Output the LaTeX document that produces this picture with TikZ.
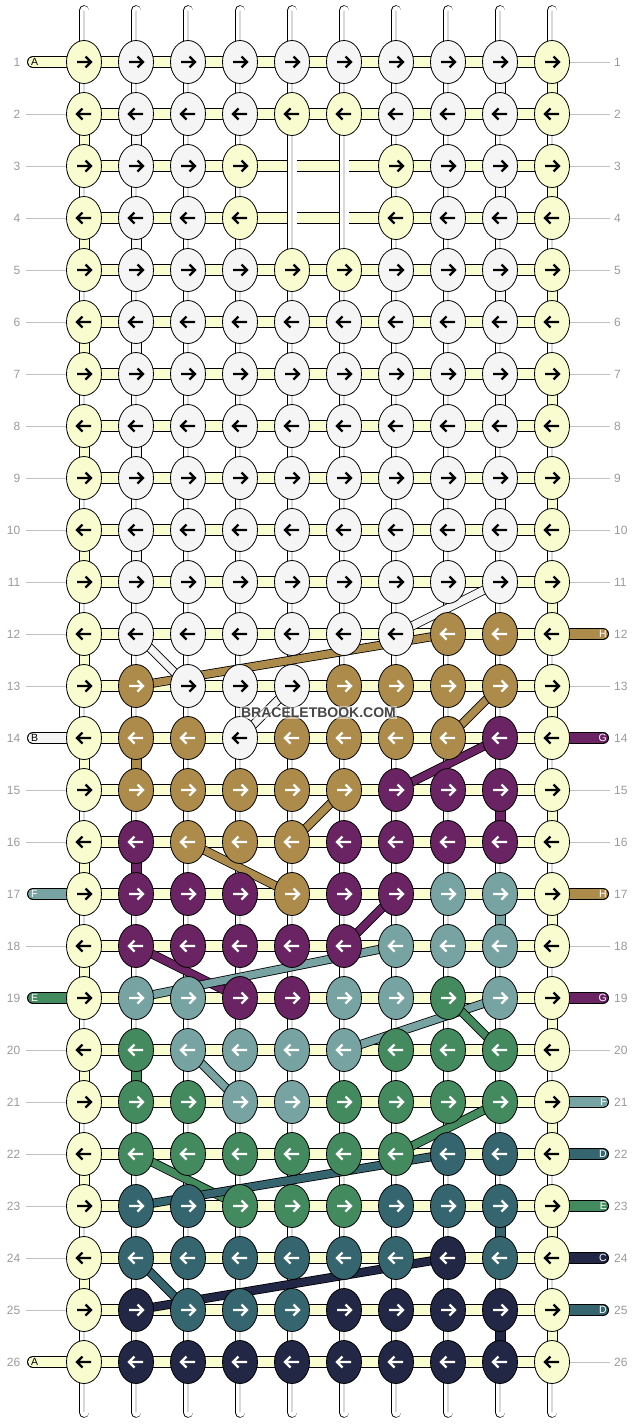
\documentclass[tikz,border=0pt]{standalone}
\usepackage{fontspec}
\setmainfont{Liberation Sans}
\usetikzlibrary{shapes,arrows}

\definecolor{cY}{HTML}{F8FCCE}
\definecolor{cW}{HTML}{F5F5F5}
\definecolor{cB}{HTML}{AD8B4B}
\definecolor{cP}{HTML}{6A2363}
\definecolor{cT}{HTML}{77A3A2}
\definecolor{cG}{HTML}{438B5E}
\definecolor{cD}{HTML}{35666F}
\definecolor{cN}{HTML}{232746}
\colorlet{aY}{black}
\colorlet{aW}{black}
\colorlet{aB}{white}
\colorlet{aP}{white}
\colorlet{aT}{white}
\colorlet{aG}{white}
\colorlet{aD}{white}
\colorlet{aN}{white}
\definecolor{numgray}{HTML}{9A9A9A}
\definecolor{markgray}{HTML}{474747}

\pgfdeclarelayer{strands}
\pgfdeclarelayer{tubes}
\pgfdeclarelayer{bands}
\pgfsetlayers{strands,tubes,bands,main}

\tikzstyle{knot} = [ellipse, draw, line width=0.8pt, minimum width=35pt,
    minimum height=43pt, inner sep=0pt]
\tikzstyle{arrowline} = [line width=2.4pt, line cap=butt, line join=miter]
\tikzstyle{strand} = [draw=black, line width=1pt, double=cY, double distance=10pt]
\tikzstyle{tube} = [draw=black, line width=0.8pt, double=white, double distance=9pt,
    line cap=round]
\tikzstyle{tubecore} = [draw=black!15, line width=2.2pt, line cap=round,
    shorten <=1pt, shorten >=1pt]
\tikzstyle{gapseg} = [draw=black, line width=1pt, double distance=9pt]
\tikzstyle{band} = [draw=black, line width=0.8pt, double distance=7.4pt]
\tikzstyle{tabline} = [draw=black, line width=1pt, double distance=10pt, line cap=round]
\tikzstyle{rowline} = [draw=numgray!60, line width=0.8pt]
\tikzstyle{rownum} = [text=numgray, font=\fontsize{12}{12}\selectfont, inner sep=0pt]
\tikzstyle{tabtext} = [font=\fontsize{10.5}{10.5}\selectfont, inner sep=0pt]
\tikzstyle{sitemark} = [anchor=base, text=markgray, font=\bfseries\fontsize{14}{14}\selectfont,
    fill=white, fill opacity=0.55, text opacity=1, inner sep=1.5pt]

\begin{document}
\begin{tikzpicture}[x=1pt, y=-1pt]
    \useasboundingbox (0,0) rectangle (636,1424);

    % Place nodes
    \foreach \ri/\knots in {
        1/{Y,W,W,W,W,W,W,W,W,Y},
        2/{Y,W,W,W,Y,Y,W,W,W,Y},
        3/{Y,W,W,Y,X,X,Y,W,W,Y},
        4/{Y,W,W,Y,X,X,Y,W,W,Y},
        5/{Y,W,W,W,Y,Y,W,W,W,Y},
        6/{Y,W,W,W,W,W,W,W,W,Y},
        7/{Y,W,W,W,W,W,W,W,W,Y},
        8/{Y,W,W,W,W,W,W,W,W,Y},
        9/{Y,W,W,W,W,W,W,W,W,Y},
        10/{Y,W,W,W,W,W,W,W,W,Y},
        11/{Y,W,W,W,W,W,W,W,W,Y},
        12/{Y,W,W,W,W,W,W,B,B,Y},
        13/{Y,B,W,W,W,B,B,B,B,Y},
        14/{Y,B,B,W,B,B,B,B,P,Y},
        15/{Y,B,B,B,B,B,P,P,P,Y},
        16/{Y,P,B,B,B,P,P,P,P,Y},
        17/{Y,P,P,P,B,P,P,T,T,Y},
        18/{Y,P,P,P,P,P,T,T,T,Y},
        19/{Y,T,T,P,P,T,T,G,T,Y},
        20/{Y,G,T,T,T,T,G,G,G,Y},
        21/{Y,G,G,T,T,G,G,G,G,Y},
        22/{Y,G,G,G,G,G,G,D,D,Y},
        23/{Y,D,D,G,G,G,D,D,D,Y},
        24/{Y,D,D,D,D,D,D,N,D,Y},
        25/{Y,N,D,D,D,N,N,N,N,Y},
        26/{Y,N,N,N,N,N,N,N,N,Y}} {
        \pgfmathsetmacro{\dir}{ifthenelse(mod(\ri,2)==1,1,-1)}
        \pgfmathsetmacro{\ax}{-7*\dir}
        \pgfmathsetmacro{\bx}{6.5*\dir}
        \pgfmathsetmacro{\hx}{1.5*\dir}
        \pgfmathsetmacro{\tx}{7*\dir}
        \foreach \k [count=\ci from 0] in \knots {
            \if\k X\else
                \node [knot, fill=c\k] (k-\ri-\ci) at (84+52*\ci, 10+52*\ri) {};
                \draw [arrowline, a\k] (k-\ri-\ci.center) +(\ax,0) -- +(\bx,0)
                    +(\hx,-5.5) -- +(\tx,0) -- +(\hx,5.5);
            \fi
        }
    }
    \foreach \ci in {0,...,9} {
        \coordinate (top-\ci) at (84+52*\ci, 10.5);
        \coordinate (bot-\ci) at (84+52*\ci, 1412.5);
    }
    \foreach \ri in {1,...,26} {
        \node [rownum, anchor=east] (numL-\ri) at (20.5, 10+52*\ri) {\ri};
        \node [rownum, anchor=west] (numR-\ri) at (614, 10+52*\ri) {\ri};
    }
    \foreach \ri/\tc/\tl in {1/Y/A, 14/W/B, 17/T/F, 19/G/E, 26/Y/A} {
        \coordinate (tabL-\ri) at (33, 10+52*\ri);
        \node [tabtext, anchor=west, text=a\tc] (lblL-\ri) at (31, 10+52*\ri) {\tl};
        \begin{pgfonlayer}{strands}
            \draw [tabline, double=c\tc] (tabL-\ri) -- (k-\ri-0.center);
        \end{pgfonlayer}
    }
    \foreach \ri/\tc/\tl in {12/B/H, 14/P/G, 17/B/H, 19/P/G, 21/T/F, 22/D/D, 23/G/E, 24/N/C, 25/D/D} {
        \coordinate (tabR-\ri) at (603, 10+52*\ri);
        \node [tabtext, anchor=east, text=a\tc] (lblR-\ri) at (607, 10+52*\ri) {\tl};
        \begin{pgfonlayer}{strands}
            \draw [tabline, double=c\tc] (k-\ri-9.center) -- (tabR-\ri);
        \end{pgfonlayer}
    }
    \node [sitemark] (site) at (318.5,717) {BRACELETBOOK.COM};

    % Draw edges
    \foreach \ri in {2,...,13,15,16,18,20,21,22,23,24,25}
        \draw [rowline] ([xshift=5pt]numL-\ri.east) -- (k-\ri-0);
    \foreach \ri in {1,...,11,13,15,16,18,20,26}
        \draw [rowline] (k-\ri-9) -- ([xshift=-4pt]numR-\ri.west);

    \begin{pgfonlayer}{strands}
        \foreach \ri in {1,...,26}
            \draw [strand] (k-\ri-0.center) -- (k-\ri-9.center);
    \end{pgfonlayer}

    \begin{pgfonlayer}{tubes}
        \foreach \ci in {0,...,9} {
            \draw [tube] (top-\ci) -- (bot-\ci);
            \draw [tubecore] (top-\ci) -- (bot-\ci);
        }
    \end{pgfonlayer}

    \begin{pgfonlayer}{bands}
        % edge turns of A
        \foreach \ri [evaluate=\ri as \rn using int(\ri+1)] in {1,3,...,25}
            \draw [gapseg, double=cY] (k-\ri-9.center) -- (k-\rn-9.center);
        \foreach \ri [evaluate=\ri as \rn using int(\ri+1)] in {2,4,...,24}
            \draw [gapseg, double=cY] (k-\ri-0.center) -- (k-\rn-0.center);
        % turns of the white string
        \foreach \ri [evaluate=\ri as \rn using int(\ri+1)] in {1,3,...,9}
            \draw [gapseg, double=cW] (k-\ri-8.center) -- (k-\rn-8.center);
        \foreach \ri [evaluate=\ri as \rn using int(\ri+1)] in {2,4,...,10}
            \draw [gapseg, double=cW] (k-\ri-1.center) -- (k-\rn-1.center);
        \foreach \ri/\rn/\ci/\gc in {14/15/1/B, 16/17/1/P, 15/16/8/P, 17/18/8/T,
            20/21/1/G, 23/24/8/D, 25/26/8/N}
            \draw [gapseg, double=c\gc] (k-\ri-\ci.center) -- (k-\rn-\ci.center);
        % diagonal moves
        \foreach \ra/\ca/\rb/\cb/\bc in {11/8/12/6/W, 12/1/13/2/W, 13/4/14/3/W,
            12/7/13/1/B, 13/8/14/7/B, 15/5/16/4/B, 16/2/17/4/B,
            14/8/15/6/P, 17/6/18/5/P, 18/1/19/3/P,
            18/6/19/1/T, 19/8/20/5/T, 20/2/21/3/T,
            19/7/20/8/G, 21/8/22/6/G, 22/1/23/3/G,
            22/7/23/1/D, 24/1/25/2/D,
            24/7/25/1/N}
            \draw [band, double=c\bc] (k-\ra-\ca.center) -- (k-\rb-\cb.center);
    \end{pgfonlayer}
\end{tikzpicture}
\end{document}
